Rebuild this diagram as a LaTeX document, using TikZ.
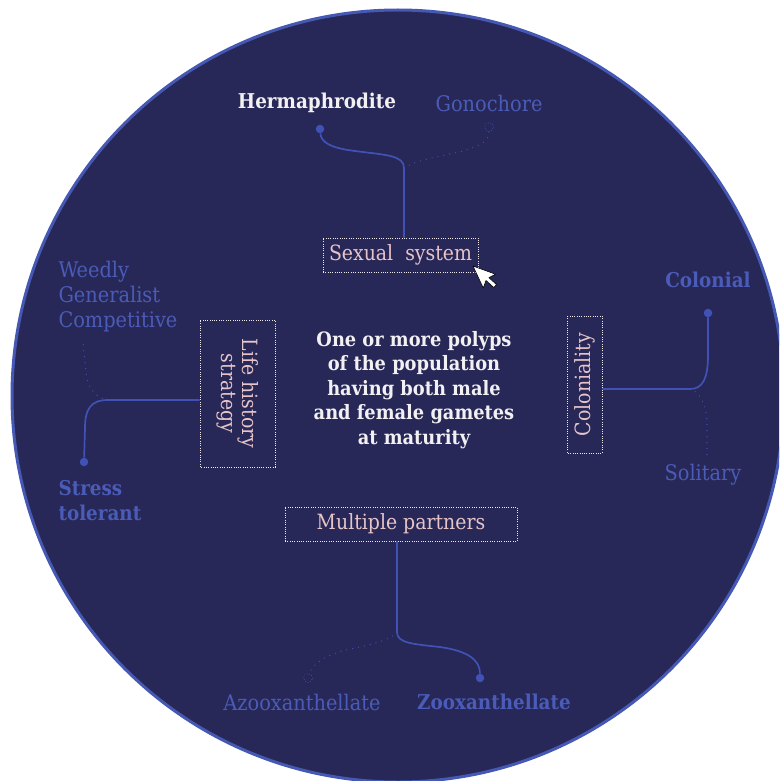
\documentclass[tikz,border=0pt]{standalone}
\usepackage{fontspec}
\setmainfont{DejaVu Serif Condensed}
\definecolor{navy}{HTML}{272857}
\definecolor{rimblue}{HTML}{4458B4}
\definecolor{optblue}{HTML}{4B5CB8}
\definecolor{linkblue}{HTML}{4052B6}
\definecolor{pinkish}{HTML}{E6C4C8}
\definecolor{offwhite}{HTML}{F2F0F2}
\usetikzlibrary{positioning}

\tikzset{
  catbox/.style={draw=offwhite!85!pinkish, line width=0.9pt, dash pattern=on 0.9pt off 1.4pt,
    text=pinkish, font=\fontsize{21}{21}\selectfont, align=center, inner sep=0pt},
  choice/.style={text=offwhite, font=\bfseries\fontsize{20.4}{24.5}\selectfont},
  optbold/.style={text=optblue, font=\bfseries\fontsize{20.4}{25}\selectfont, align=left},
  optreg/.style={text=optblue, font=\fontsize{21.5}{25}\selectfont, align=left},
  link/.style={draw=linkblue, line width=1.7pt},
  altlink/.style={draw=linkblue, line width=1.3pt, line cap=round, dash pattern=on 0pt off 6pt},
  dotend/.style={circle, fill=linkblue, inner sep=0pt, minimum size=8.5pt},
  opendot/.style={circle, draw=linkblue, line width=1pt, line cap=round, dash pattern=on 0pt off 2.6pt, inner sep=0pt, minimum size=9pt},
}

\begin{document}
\begin{tikzpicture}[x=1pt, y=-1pt]
\useasboundingbox (0,0) rectangle (779,781);
\clip (0,0) rectangle (779,781);

% Disc
\fill[navy] (398,396) circle (386);
\draw[rimblue, line width=3pt] (398,396) circle (386);

% Central statement
\node[choice, align=center, font=\bfseries\fontsize{19.8}{24.4}\selectfont] (statement) at (414,390) {One or more polyps\\of the population\\having both male\\and female gametes\\at maturity};

% Sexual system (top)
\node[catbox, minimum width=155pt, minimum height=34pt] (sexual) at (400.5,255) {Sexual\ \ system};
\node[dotend] (hermdot) at (320,129) {};
\node[opendot] (gonodot) at (489,127) {};
\node[choice] (herm) at (317,103) {Hermaphrodite};
\node[optreg] (gono) at (489,103) {Gonochore};
\coordinate (sexfork) at (404,168);
\draw[link] (sexfork |- sexual.north) -- (sexfork) .. controls (404,155) and (385,155) .. (355,151) .. controls (330,148) and (321,142) .. (hermdot);
\draw[altlink] (sexfork) .. controls (420,158) and (450,155) .. (466,150) .. controls (482,145) and (489,140) .. (gonodot);

% Life history strategy (left)
\node[catbox, rotate=-90, minimum width=147pt, minimum height=75pt] (life) at (237.5,393.5) {Life history\\strategy};
\node[dotend] (stressdot) at (84,462) {};
\node[optreg, anchor=west] (weedly) at (55,297) {Weedly\\Generalist\\Competitive};
\node[optbold, anchor=west] (stress) at (55,501) {Stress\\tolerant};
\coordinate (lifefork) at (108,400);
\draw[link] (life.south |- lifefork) -- (lifefork) .. controls (90,400) and (85,410) .. (85,428) -- (stressdot);
\draw[altlink] (lifefork) .. controls (96,398) and (87,388) .. (86,372) -- (83,343);

% Coloniality (right)
\node[catbox, rotate=90, minimum width=137pt, minimum height=35pt] (colony) at (584.5,384.5) {Coloniality};
\node[dotend] (coldot) at (708,313) {};
\node[optbold] (colonial) at (708,280) {Colonial};
\node[optreg] (solitary) at (703,475) {Solitary};
\coordinate (colfork) at (690,389);
\draw[link] (colony.south |- colfork) -- (colfork) .. controls (703,389) and (708,378) .. (708,355) -- (coldot);
\draw[altlink] (colfork) .. controls (700,392) and (707,405) .. (707,425) -- (707,457);

% Multiple partners (bottom)
\node[catbox, minimum width=232pt, minimum height=34pt] (partners) at (401,524) {Multiple partners};
\node[dotend] (zoodot) at (480,678) {};
\node[opendot] (azodot) at (308,678) {};
\node[optreg] (azoo) at (302,702) {Azooxanthellate};
\node[optbold] (zoo) at (494,702) {Zooxanthellate};
\coordinate (partfork) at (397,632);
\draw[link] (partfork |- partners.south) -- (partfork) .. controls (397,643) and (412,644) .. (440,647) .. controls (468,651) and (480,660) .. (zoodot);
\draw[altlink] (partfork) .. controls (390,641) and (368,645) .. (346,650) .. controls (322,656) and (312,666) .. (azodot);

% Pointer
\begin{scope}[shift={(473,266)}, rotate=25, scale=1.35]
\draw[fill=white, draw=black, line width=0.6pt, line join=round] (0,0) -- (0,18) -- (4.2,13.8) -- (7.2,21) -- (10,19.8) -- (7,12.8) -- (12.6,12.6) -- cycle;
\end{scope}
\end{tikzpicture}
\end{document}
